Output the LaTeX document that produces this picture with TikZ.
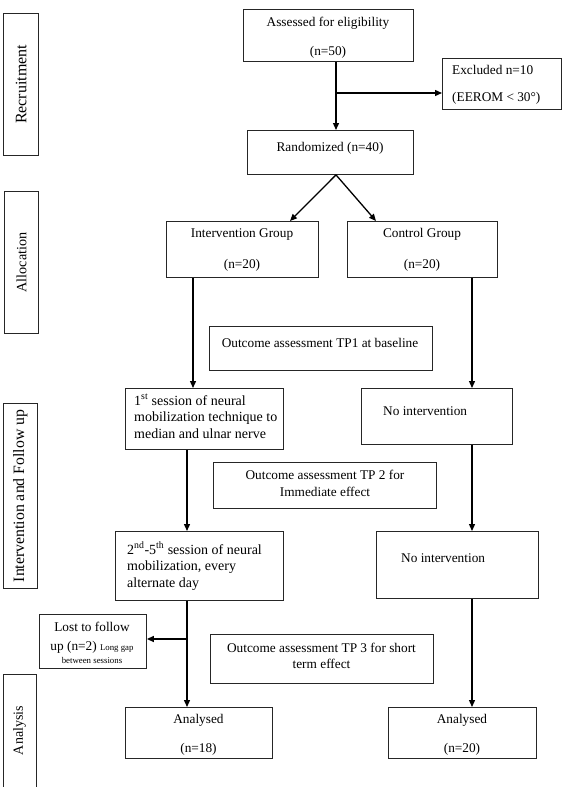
\documentclass[tikz,border=0pt]{standalone}
\usepackage{fontspec}
\setmainfont{Liberation Serif}
\usetikzlibrary{arrows.meta,calc}
\newcommand{\fsn}{\fontsize{13.3}{16.5}\selectfont}
\newcommand{\fsb}{\fontsize{14}{16.5}\selectfont}
\newcommand{\fss}{\fontsize{8.8}{10}\selectfont}
\begin{document}
\begin{tikzpicture}[x=1pt,y=1pt,
 box/.style={draw=black!85, line width=0.9pt, inner sep=0pt, anchor=north west},
 tx/.style={font=\fsn, inner sep=0pt, anchor=base},
 txl/.style={font=\fsn, inner sep=0pt, anchor=base west},
 txb/.style={font=\fsb, inner sep=0pt, anchor=base west},
 side/.style={inner sep=0pt, rotate=90, anchor=center},
 arr/.style={draw=black, line width=1.3pt, -{Triangle[length=7pt,width=6pt]}}]
\useasboundingbox (0,0) rectangle (563,-787);
% side boxes
\node[box, minimum width=35pt, minimum height=142pt] (rec) at (3.3,-13) {};
\node[box, minimum width=34pt, minimum height=142pt] (alloc) at (4,-191) {};
\node[box, minimum width=34pt, minimum height=185pt] (ifu) at (3,-403) {};
\node[box, minimum width=33pt, minimum height=120pt] (anal) at (3,-674) {};
\node[side, font=\fontsize{16}{18}\selectfont] (recl) at (rec.center) {Recruitment};
\node[side, font=\fontsize{14.2}{17}\selectfont] (allocl) at (alloc.center) {Allocation};
\node[side, font=\fontsize{15.8}{18}\selectfont] (iful) at (ifu.center) {Intervention and Follow up};
\node[side, font=\fontsize{14}{17}\selectfont] (analyl) at (3+16.5,-730.5) {Analysis};
% flow boxes
\node[box, minimum width=170pt, minimum height=52pt] (assessed) at (243,-9) {};
\node[box, minimum width=119pt, minimum height=51pt] (excluded) at (442,-58) {};
\node[box, minimum width=166pt, minimum height=44pt] (rand) at (247,-130) {};
\node[box, minimum width=152pt, minimum height=56pt] (ig) at (166,-221) {};
\node[box, minimum width=150pt, minimum height=56pt] (cg) at (347,-221) {};
\node[box, minimum width=223pt, minimum height=44pt] (tp1) at (209,-326) {};
\node[box, minimum width=158pt, minimum height=61pt] (s1) at (125,-388) {};
\node[box, minimum width=151pt, minimum height=56pt] (ni1) at (361,-388) {};
\node[box, minimum width=223pt, minimum height=46pt] (tp2) at (213,-462) {};
\node[box, minimum width=168pt, minimum height=69pt] (s2) at (115,-531) {};
\node[box, minimum width=162pt, minimum height=67pt] (ni2) at (376,-531) {};
\node[box, minimum width=107pt, minimum height=54pt] (lost) at (39,-614) {};
\node[box, minimum width=223pt, minimum height=49pt] (tp3) at (210,-634) {};
\node[box, minimum width=147pt, minimum height=51pt] (an1) at (125,-707) {};
\node[box, minimum width=148pt, minimum height=51pt] (an2) at (388,-707) {};
% texts
\node[tx] (ta1) at (328,-27) {Assessed for eligibility};
\node[tx] (ta2) at (328,-55) {(n=50)};
\node[txl] (te1) at (452,-74) {Excluded n=10};
\node[txl] (te2) at (452,-101) {(EEROM < 30°)};
\node[tx] (tr) at (330,-151) {Randomized (n=40)};
\node[tx] (tig1) at (242,-237) {Intervention Group};
\node[tx] (tig2) at (242,-268) {(n=20)};
\node[tx] (tcg1) at (422,-237) {Control Group};
\node[tx] (tcg2) at (422,-268) {(n=20)};
\node[tx] (tt1) at (320,-347) {Outcome assessment TP1 at baseline};
\node[txb] (ts1a) at (134,-405) {1\textsuperscript{st} session of neural};
\node[txb] (ts1b) at (134,-421.5) {mobilization technique to};
\node[txb] (ts1c) at (134,-438) {median and ulnar nerve};
\node[txl] (tn1) at (383,-415) {No intervention};
\node[tx] (tt2a) at (325,-479) {Outcome assessment TP 2 for};
\node[tx] (tt2b) at (325,-496) {Immediate effect};
\node[txb] (ts2a) at (127,-554) {2\textsuperscript{nd}-5\textsuperscript{th} session of neural};
\node[txb] (ts2b) at (127,-570.5) {mobilization, every};
\node[txb] (ts2c) at (127,-587) {alternate day};
\node[txl] (tn2) at (401,-562) {No intervention};
\node[tx] (tl1) at (92,-631) {Lost to follow};
\node[tx] (tl2) at (92,-650) {up (n=2) {\fss Long gap}};
\node[tx, font=\fss] (tl3) at (92,-663) {between sessions};
\node[tx] (tt3a) at (321.5,-652) {Outcome assessment TP 3 for short};
\node[tx] (tt3b) at (321.5,-668) {term effect};
\node[tx] (tan1a) at (198.5,-723) {Analysed};
\node[tx] (tan1b) at (198.5,-752) {(n=18)};
\node[tx] (tan2a) at (462,-723) {Analysed};
\node[tx] (tan2b) at (462,-752) {(n=20)};
% connector columns
\coordinate (c1) at (336,0);
\coordinate (c2) at (290,0);
\coordinate (c3) at (376,0);
\coordinate (c4) at (193,0);
\coordinate (c5) at (472,0);
\coordinate (c6) at (187,0);
\coordinate (br1) at (336,-93);
\coordinate (br2) at (187,-639);
% connectors
\draw[arr] (assessed.south -| c1) -- (rand.north -| c1);
\draw[arr] (br1) -- (br1 -| excluded.west);
\draw[arr] (rand.south -| c1) -- (ig.north -| c2);
\draw[arr] (rand.south -| c1) -- (cg.north -| c3);
\draw[arr] (ig.south -| c4) -- (s1.north -| c4);
\draw[arr] (cg.south -| c5) -- (ni1.north -| c5);
\draw[arr] (s1.south -| c6) -- (s2.north -| c6);
\draw[arr] (ni1.south -| c5) -- (ni2.north -| c5);
\draw[arr] (s2.south -| c6) -- (an1.north -| c6);
\draw[arr] (ni2.south -| c5) -- (an2.north -| c5);
\draw[arr] (br2) -- (br2 -| lost.east);
\end{tikzpicture}
\end{document}
